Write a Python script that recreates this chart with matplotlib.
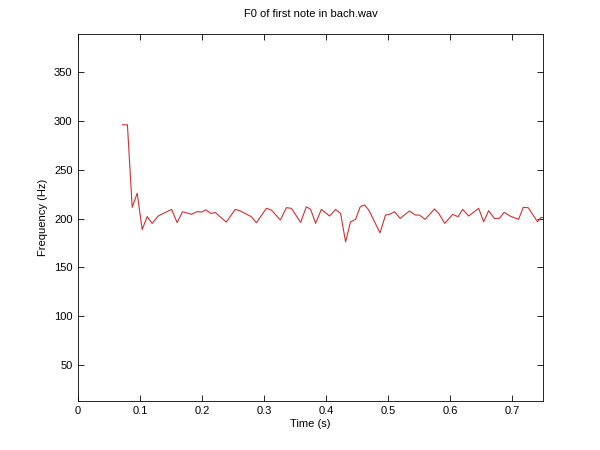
import matplotlib
matplotlib.use("Agg")
import matplotlib.pyplot as plt

# F0 track (time in s, frequency in Hz)
times = [0.0717, 0.0797, 0.0874, 0.0955, 0.1035, 0.1116, 0.1196, 0.1293, 0.1401, 0.1509,
         0.1599, 0.1686, 0.1831, 0.1924, 0.1997, 0.2061, 0.2142, 0.2214, 0.2391, 0.2536,
         0.2609, 0.2797, 0.2877, 0.3039, 0.3119, 0.3264, 0.3361, 0.3441, 0.3591, 0.3683,
         0.3752, 0.3833, 0.3924, 0.4058, 0.4155, 0.4235, 0.4316, 0.4396, 0.4477, 0.4552,
         0.4622, 0.4691, 0.4871, 0.4960, 0.5024, 0.5105, 0.5196, 0.5346, 0.5443, 0.5507,
         0.5599, 0.5749, 0.5818, 0.5915, 0.6043, 0.6130, 0.6205, 0.6301, 0.6462, 0.6543,
         0.6623, 0.6715, 0.6795, 0.6876, 0.6968, 0.7106, 0.7182, 0.7262, 0.7412, 0.7467,
         0.7500]
f0 = [295.9, 295.9, 211.5, 225.9, 188.7, 202.1, 195.1, 202.6, 206.0, 209.4,
      195.9, 207.0, 204.4, 207.2, 206.7, 209.0, 205.3, 206.2, 196.4, 209.4,
      208.0, 201.9, 195.7, 210.5, 208.7, 198.5, 211.1, 210.5, 196.1, 212.1,
      209.4, 195.1, 209.4, 202.6, 209.4, 205.3, 176.2, 196.7, 199.2, 212.1,
      213.9, 208.7, 185.4, 203.6, 204.3, 207.0, 200.2, 207.7, 203.6, 203.6,
      199.2, 209.8, 205.3, 195.1, 204.3, 201.9, 209.4, 202.6, 210.5, 196.7,
      208.0, 200.2, 200.2, 206.4, 202.6, 199.2, 211.5, 211.1, 196.7, 201.2,
      201.0]

x_ticks = [0, 0.1, 0.2, 0.3, 0.4, 0.5, 0.6, 0.7]
x_labels = ["0", "0.1", "0.2", "0.3", "0.4", "0.5", "0.6", "0.7"]
y_ticks = [50, 100, 150, 200, 250, 300, 350]

plt.rcParams['font.family'] = ['Liberation Sans', 'DejaVu Sans']

fig = plt.figure(figsize=(6, 4.5), dpi=100)
ax = fig.add_axes([0.13, 0.11, 0.775, 0.815])   # matlab default axes box

ax.plot(times, f0, color='#cc3333', linewidth=0.8)

ax.set_xlim(0, 0.75)
ax.set_ylim(14, 389)
ax.set_xticks(x_ticks)
ax.set_xticklabels(x_labels)
ax.set_yticks(y_ticks)
ax.tick_params(direction='in', length=4, width=0.6, top=True, right=True,
               labelsize=8, pad=4, colors='black')
for s in ax.spines.values():
    s.set_linewidth(0.6)

ax.set_title("F0 of first note in bach.wav", fontsize=8, pad=12)
ax.set_xlabel("Time (s)", fontsize=8, labelpad=2)
ax.set_ylabel("Frequency (Hz)", fontsize=8, labelpad=4)

fig.savefig("out.png", dpi=100, facecolor='white')
